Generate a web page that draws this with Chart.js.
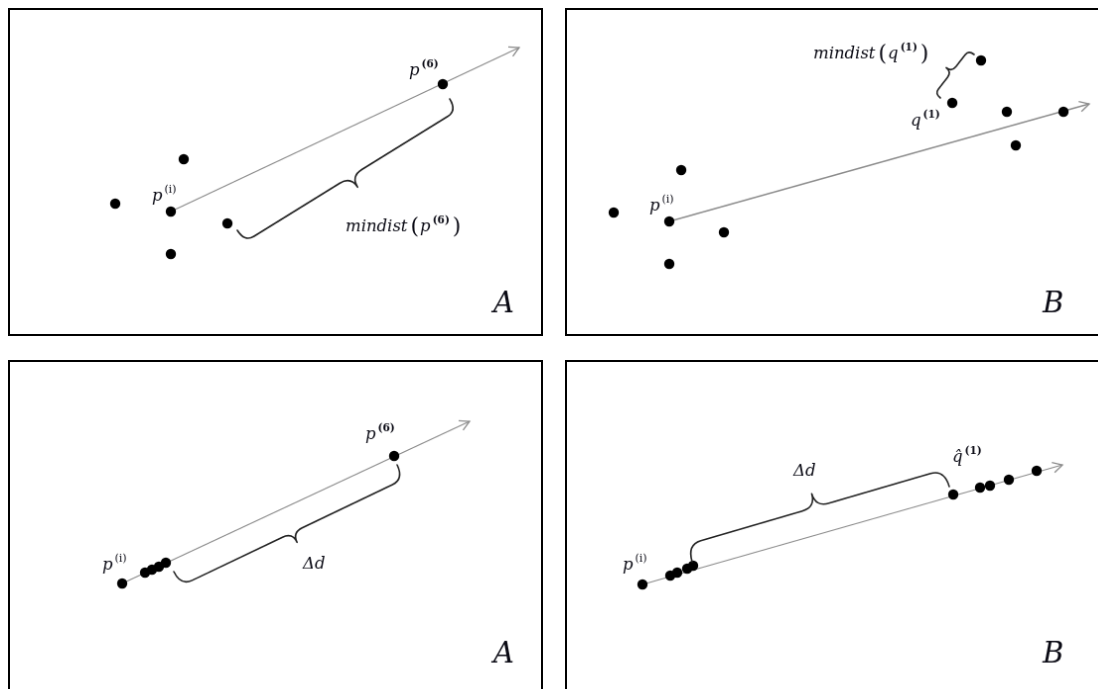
<!DOCTYPE html>
<html><head><meta charset="utf-8">
<script src="https://cdn.jsdelivr.net/npm/chart.js@4.4.1/dist/chart.umd.min.js"></script>
<style>
html,body{margin:0;padding:0;background:#fff;overflow:hidden;width:1098px;height:689px;position:relative;}
canvas{position:absolute;border:2px solid #000;}
</style></head><body>
<canvas id="c1" width="535" height="328" style="left:8px;top:8px"></canvas>
<canvas id="c2" width="560" height="328" style="left:565px;top:8px"></canvas>
<canvas id="c3" width="535" height="350" style="left:8px;top:360px"></canvas>
<canvas id="c4" width="560" height="350" style="left:565px;top:360px"></canvas>
<script>
// ---- Panel A (top) ----
const p1Dots  = [[106,132],[175,177],[162,124],[162,81],[219,112],[436,253]];
const p1Arrow = [[162,124],[513,290]];
const p1Brace = [[229,105],[443,238]];
const p1Labels = [
  {at:[143,135], tokens:['p','^(i)']},
  {at:[402,262], tokens:['p','^(6)']},
  {at:[338,104], tokens:['mindist','(','p','^(6)',')']},
  {at:[487,22],  tokens:['A'], big:true}
];
// ---- Panel B (top) ----
const p2Dots  = [[47,123],[115,166],[103,114],[103,71],[158,103],[388,234],[417,277],[443,225],[452,191],[500,225]];
const p2Arrow = [[103,114],[526,233]];
const p2Brace = [[376,239],[410,283]];
const p2Labels = [
  {at:[248,279], tokens:['mindist','(','q','^(1)',')']},
  {at:[346,211], tokens:['q','^(1)']},
  {at:[83,125],  tokens:['p','^(i)']},
  {at:[479,22],  tokens:['B'], big:true}
];
// ---- Panel A (bottom) ----
const p3Dots  = [[113,104],[136,115],[143,118],[150,121],[157,125],[387,233]];
const p3Arrow = [[113,104],[463,268]];
const p3Brace = [[165,116],[390,224]];
const p3Labels = [
  {at:[93,118],  tokens:['p','^(i)']},
  {at:[358,250], tokens:['p','^(6)']},
  {at:[295,119], tokens:['Δd']},
  {at:[487,24],  tokens:['A'], big:true}
];
// ---- Panel B (bottom) ----
const p4Dots  = [[76,103],[104,112],[111,115],[121,119],[127,122],[389,194],[416,201],[426,203],[445,209],[473,218]];
const p4Arrow = [[76,103],[499,224]];
const p4Brace = [[126,126],[385,202]];
const p4Labels = [
  {at:[56,118],  tokens:['p','^(i)']},
  {at:[228,213], tokens:['Δd']},
  {at:[388,227], tokens:['q\u0302','^(1)']},
  {at:[479,24],  tokens:['B'], big:true}
];

const TOP = 328; // y value at the top inner edge of every panel
const braceStyles = {
  c1:{side:1, depth:14, cusp:13},
  c2:{side:-1, depth:7, cusp:7},
  c3:{side:1, depth:16, cusp:11},
  c4:{side:-1, depth:18, cusp:14}
};

function drawBrace(ctx, S, E, side, h, c) {
  const dx = E[0]-S[0], dy = E[1]-S[1], L = Math.hypot(dx,dy), ux = dx/L, uy = dy/L;
  const nx = -uy*side, ny = ux*side;
  const P = (t,o) => [S[0]+ux*t+nx*o, S[1]+uy*t+ny*o];
  const r = h*0.8;
  ctx.save();
  ctx.strokeStyle = '#222'; ctx.lineWidth = 1.6; ctx.lineJoin='round'; ctx.lineCap='round';
  ctx.beginPath(); ctx.moveTo(S[0],S[1]);
  let q = P(0,h), e = P(r,h); ctx.quadraticCurveTo(q[0],q[1],e[0],e[1]);
  e = P(L/2-c,h); ctx.lineTo(e[0],e[1]);
  q = P(L/2,h); e = P(L/2,h+c); ctx.quadraticCurveTo(q[0],q[1],e[0],e[1]);
  e = P(L/2+c,h); ctx.quadraticCurveTo(q[0],q[1],e[0],e[1]);
  e = P(L-r,h); ctx.lineTo(e[0],e[1]);
  q = P(L,h); ctx.quadraticCurveTo(q[0],q[1],E[0],E[1]);
  ctx.stroke(); ctx.restore();
}

function drawMath(ctx, x, y, tokens, big) {
  ctx.save(); ctx.fillStyle = '#0a0a14'; ctx.textBaseline = 'alphabetic'; ctx.textAlign = 'left';
  let cx = x;
  tokens.forEach(tok => {
    let font, dy = 0, gb = 0, ga = 0;
    if (big) font = 'italic 29px "DejaVu Serif"';
    else if (tok.startsWith('^')) { tok = tok.slice(1); font = /\d/.test(tok) ? 'bold 10.5px "DejaVu Serif"' : '11px "DejaVu Serif"'; dy = -8; gb = 2; }
    else if (tok === '(') { font = '22px "DejaVu Serif"'; dy = 2; gb = 3; ga = 1; }
    else if (tok === ')') { font = '22px "DejaVu Serif"'; dy = 2; gb = 3; ga = 0; }
    else font = 'italic 16.5px "DejaVu Serif"';
    ctx.font = font; cx += gb;
    ctx.fillText(tok, cx, y + dy);
    cx += ctx.measureText(tok).width + ga;
  });
  ctx.restore();
}

const annot = {
  id: 'annot',
  afterDatasetsDraw(chart, args, opts) {
    const ctx = chart.ctx, xs = chart.scales.x, ys = chart.scales.y;
    const px = p => [xs.getPixelForValue(p[0]), ys.getPixelForValue(p[1])];
    const m = chart.getDatasetMeta(1).data;
    const a = m[m.length-2], b = m[m.length-1];
    const ang = Math.atan2(b.y-a.y, b.x-a.x), len = 11, spread = 0.5;
    ctx.save(); ctx.strokeStyle = '#8c8c8c'; ctx.lineWidth = 1.3;
    ctx.beginPath();
    ctx.moveTo(b.x - len*Math.cos(ang-spread), b.y - len*Math.sin(ang-spread));
    ctx.lineTo(b.x, b.y);
    ctx.lineTo(b.x - len*Math.cos(ang+spread), b.y - len*Math.sin(ang+spread));
    ctx.stroke(); ctx.restore();
    const st = opts.style;
    drawBrace(ctx, px(opts.brace[0]), px(opts.brace[1]), st.side, st.depth, st.cusp);
    opts.labels.forEach(l => { const p = px(l.at); drawMath(ctx, p[0], p[1], l.tokens, l.big); });
  }
};

function makePanel(id, dots, arrow, brace, labels) {
  const cv = document.getElementById(id);
  new Chart(cv, {
    type: 'scatter',
    data: { datasets: [
      { data: dots.map(d => ({x:d[0], y:d[1]})), backgroundColor:'#000', borderWidth:0, pointRadius:5.2, pointHoverRadius:5.2 },
      { data: arrow.map(d => ({x:d[0], y:d[1]})), showLine:true, borderColor:'#8c8c8c', borderWidth:1.3, pointRadius:0, pointHoverRadius:0 }
    ]},
    options: {
      responsive:false, animation:false, events:[],
      layout:{padding:0, autoPadding:false},
      plugins:{ legend:{display:false}, tooltip:{enabled:false},
        annot:{ brace:brace, labels:labels, style:braceStyles[id] } },
      scales:{
        x:{type:'linear', min:0, max:cv.width, display:false},
        y:{type:'linear', min:TOP - cv.height, max:TOP, display:false}
      }
    },
    plugins:[annot]
  });
}
makePanel('c1', p1Dots, p1Arrow, p1Brace, p1Labels);
makePanel('c2', p2Dots, p2Arrow, p2Brace, p2Labels);
makePanel('c3', p3Dots, p3Arrow, p3Brace, p3Labels);
makePanel('c4', p4Dots, p4Arrow, p4Brace, p4Labels);
</script>
</body></html>
